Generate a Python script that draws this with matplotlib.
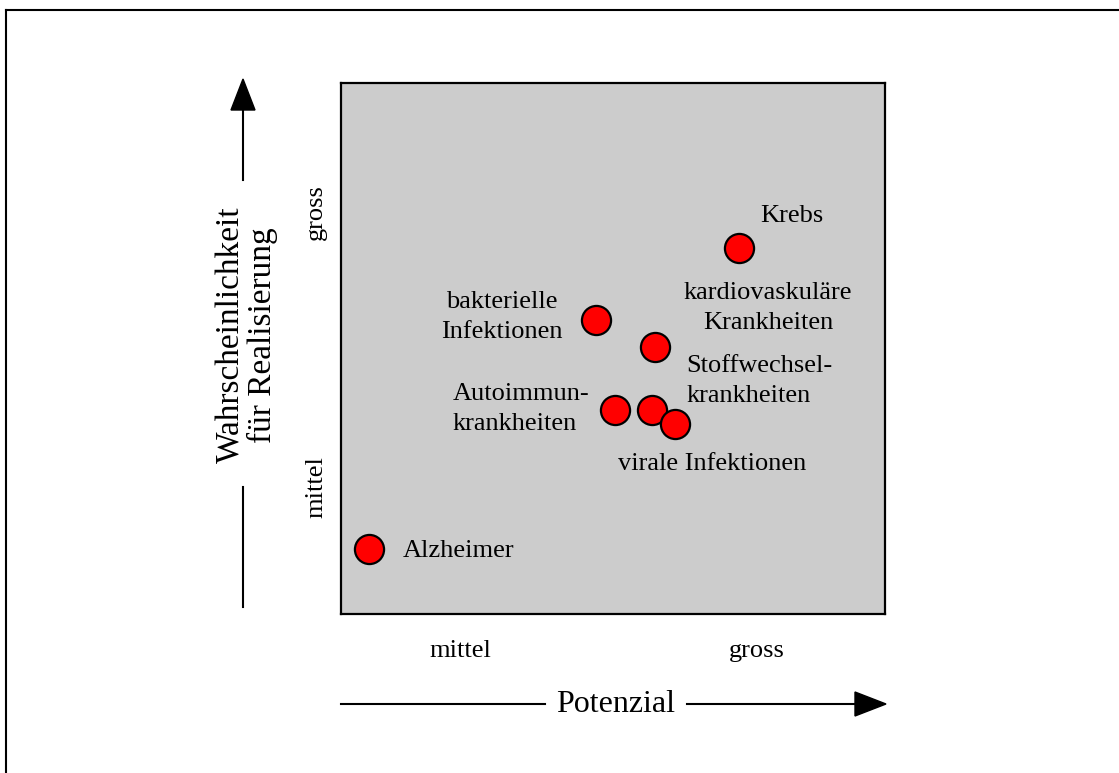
import numpy as np
import matplotlib
matplotlib.use("Agg")
from matplotlib import pyplot as plt
from matplotlib.lines import Line2D
from matplotlib.patches import Polygon

plt.rcParams['font.family'] = ['Liberation Serif', 'DejaVu Serif']

# data
names = ["Krebs", "kardiovaskuläre Krankheiten", "bakterielle Infektionen",
         "Autoimmunkrankheiten", "virale Infektionen", "Stoffwechselkrankheiten",
         "Alzheimer"]
potenzial = [7.32, 5.77, 4.69, 5.04, 5.72, 6.14, 0.51]
wahrscheinlichkeit = [6.89, 5.03, 5.54, 3.84, 3.84, 3.58, 1.22]

x_ticks = [2.2, 7.65]
x_ticklabels = ["mittel", "gross"]
y_ticks = [2.39, 7.57]
y_ticklabels = ["mittel", "gross"]

# label text, position, alignment
labels = [
    ("Krebs", 8.29, 7.50, "center"),
    ("kardiovaskuläre\nKrankheiten", 7.85, 5.76, "center"),
    ("bakterielle\nInfektionen", 2.96, 5.59, "center"),
    ("Stoffwechsel-\nkrankheiten", 6.35, 4.39, "left"),
    ("Autoimmun-\nkrankheiten", 2.05, 3.86, "left"),
    ("virale Infektionen", 6.82, 2.82, "center"),
    ("Alzheimer", 1.14, 1.19, "left"),
]

W, H = 1119, 773
fig = plt.figure(figsize=(W / 100, H / 100), dpi=100)
fig.patch.set_facecolor("white")

# overlay in pixel coordinates for frame and arrows
ov = fig.add_axes([0, 0, 1, 1])
ov.set_xlim(0, W)
ov.set_ylim(H, 0)
ov.axis("off")

ov.add_line(Line2D([6, 6], [H + 5, 10], color="black", lw=1.5))
ov.add_line(Line2D([6, W + 5], [10, 10], color="black", lw=1.5))

# vertical arrow
ov.add_line(Line2D([243, 243], [607, 487], color="black", lw=1.5))
ov.add_line(Line2D([243, 243], [180, 105], color="black", lw=1.5))
ov.add_patch(Polygon([[231, 110], [255, 110], [243, 79]], closed=True,
                     facecolor="black", edgecolor="black"))
ov.text(247, 335, "Wahrscheinlichkeit\nfür Realisierung", rotation=90,
        ha="center", va="center", fontsize=24, linespacing=1.05)

# horizontal arrow
ov.add_line(Line2D([341, 545], [704, 704], color="black", lw=1.5))
ov.add_line(Line2D([687, 860], [704, 704], color="black", lw=1.5))
ov.add_patch(Polygon([[855, 692], [855, 716], [886, 704]], closed=True,
                     facecolor="black", edgecolor="black"))
ov.text(616, 704, "Potenzial", ha="center", va="center", fontsize=23)

# main chart
ax = fig.add_axes([341 / W, 1 - 614 / H, 544 / W, 531 / H])
ax.set_facecolor("#cccccc")
ax.set_xlim(0, 10)
ax.set_ylim(0, 10)
for sp in ax.spines.values():
    sp.set_linewidth(1.6)

ax.scatter(potenzial, wahrscheinlichkeit, s=440, c="#ff0000",
           edgecolors="black", linewidths=1.6, zorder=3)

for txt, x, y, ha in labels:
    ax.text(x, y, txt, ha=ha, va="center", fontsize=19, linespacing=1.45,
            multialignment=ha)

ax.set_xticks(x_ticks)
ax.set_xticklabels(x_ticklabels, fontsize=19)
ax.set_yticks(y_ticks)
ax.set_yticklabels(y_ticklabels, fontsize=19, rotation=90, va="center")
ax.tick_params(axis="both", length=0)
ax.tick_params(axis="x", pad=19)
ax.tick_params(axis="y", pad=10)

fig.savefig("out.png", dpi=100)
